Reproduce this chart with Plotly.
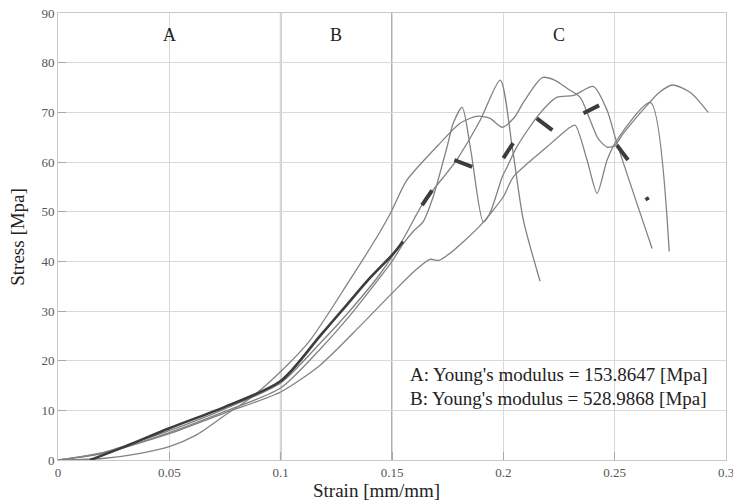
import plotly.graph_objects as go

# ---- data ----
strain_1 = [0, 0.02, 0.035, 0.05, 0.075, 0.1, 0.1177, 0.13, 0.1447, 0.155, 0.164, 0.179, 0.1896, 0.1986, 0.204, 0.209, 0.2165]
stress_1 = [0, 1.5, 3.6, 5.9, 10.3, 15.5, 23.5, 29.5, 37.5, 44.5, 51.7, 60.4, 68.4, 76.5, 63, 48.3, 36]

strain_2 = [0, 0.02, 0.035, 0.05, 0.075, 0.1, 0.1177, 0.13, 0.15, 0.155, 0.1595, 0.164, 0.1685, 0.1747, 0.1775, 0.1815,
            0.1855, 0.191, 0.194, 0.1995, 0.2017, 0.206, 0.2157, 0.224, 0.2315, 0.2405, 0.2466, 0.251, 0.2668]
stress_2 = [0, 1.4, 3.3, 5.5, 9.8, 14.5, 22.3, 28.5, 40, 43.5, 46, 48, 53, 63, 67.8, 71,
            62, 47.9, 49.7, 57, 59, 63, 69.4, 73, 73.4, 75.2, 70.4, 63.8, 42.6]

strain_3 = [0, 0.02, 0.035, 0.05, 0.075, 0.1, 0.1177, 0.1357, 0.1505, 0.16, 0.167, 0.171, 0.176, 0.1896, 0.2, 0.2045,
            0.2195, 0.23, 0.2323, 0.2376, 0.2421, 0.2466, 0.251, 0.266, 0.2745]
stress_3 = [0, 1.3, 3.2, 5.3, 9.5, 13.7, 19.1, 27, 33.8, 38, 40.4, 40.2, 41.6, 47.2, 53, 57,
            63, 67, 67.4, 60.4, 53.7, 60.4, 64.4, 72, 42]

strain_4 = [0, 0.02, 0.035, 0.05, 0.062, 0.075, 0.088, 0.1, 0.1132, 0.13, 0.1447, 0.15, 0.1566, 0.1716, 0.1806,
            0.188, 0.194, 0.1995, 0.205, 0.209, 0.2175, 0.223, 0.2287, 0.2345, 0.239, 0.2426, 0.2466, 0.25, 0.254,
            0.2645, 0.27, 0.276, 0.284, 0.292]
stress_4 = [0, 0.3, 1.2, 2.7, 5, 9, 13, 17.8, 24.1, 35.5, 46, 50.3, 56.3, 63.8, 67.8,
            69.2, 68.8, 67, 69, 72, 77, 76.5, 74.8, 73, 68.4, 64.7, 63, 63.3, 65.8,
            71.4, 74, 75.5, 74, 70]

# mean curve: solid part in regions A/B, dashed part in region C (None = gap between dashes)
mean_strain_solid = [0.0144, 0.03, 0.05, 0.075, 0.1, 0.1177, 0.13, 0.14, 0.1505, 0.155]
mean_stress_solid = [0, 2.7, 6.4, 10.7, 15.9, 25, 31.4, 36.6, 41.5, 44]
mean_strain_dash = [0.1635, 0.168, None, 0.178, 0.186, None, 0.2, 0.2044, None, 0.215, 0.222, None,
                    0.236, 0.243, None, 0.251, 0.256, None, 0.2642, 0.2650]
mean_stress_dash = [51.3, 54.3, None, 60.4, 59, None, 60.8, 63.8, None, 68.8, 66.4, None,
                    69.8, 71.4, None, 63.4, 60.4, None, 52.9, 52.3]

region_bounds = [0.0, 0.1, 0.15, 0.3]
region_labels = ["A", "B", "C"]
region_label_stress = 85.5

modulus_texts = ["A: Young's modulus = 153.8647 [Mpa]", "B: Young's modulus = 528.9868 [Mpa]"]
modulus_text_strain = 0.157
modulus_text_stress = [17.2, 12.4]

x_ticks = [0, 0.05, 0.1, 0.15, 0.2, 0.25, 0.3]
x_tick_text = ["0", "0.05", "0.1", "0.15", "0.2", "0.25", "0.3"]
y_ticks = [0, 10, 20, 30, 40, 50, 60, 70, 80, 90]

x_title = "Strain [mm/mm]"
y_title = "Stress [Mpa]"

# ---- figure ----
SERIF = "Liberation Serif, Times New Roman, serif"
GRAY = "#828282"
DARK = "#3c3c3c"

fig = go.Figure()

# region boundaries (darker vertical lines)
for b in region_bounds[1:-1]:
    fig.add_shape(type="line", xref="x", yref="paper", x0=b, x1=b, y0=0, y1=1,
                  line=dict(color="#9c9c9c", width=1.6), layer="below")

for xs, ys in [(strain_4, stress_4), (strain_3, stress_3), (strain_2, stress_2), (strain_1, stress_1)]:
    fig.add_trace(go.Scatter(x=xs, y=ys, mode="lines",
                             line=dict(color=GRAY, width=1.3, shape="spline", smoothing=0.7),
                             showlegend=False, hoverinfo="skip"))

fig.add_trace(go.Scatter(x=mean_strain_solid, y=mean_stress_solid, mode="lines",
                         line=dict(color=DARK, width=2.6, shape="spline", smoothing=0.8),
                         showlegend=False, hoverinfo="skip"))
fig.add_trace(go.Scatter(x=mean_strain_dash, y=mean_stress_dash, mode="lines",
                         line=dict(color=DARK, width=4), connectgaps=False,
                         showlegend=False, hoverinfo="skip"))

# region labels centred in each region
for i, lab in enumerate(region_labels):
    fig.add_annotation(x=(region_bounds[i] + region_bounds[i + 1]) / 2, y=region_label_stress, text=lab,
                       showarrow=False, font=dict(family=SERIF, size=18, color="#222"))

for t, ys in zip(modulus_texts, modulus_text_stress):
    fig.add_annotation(x=modulus_text_strain, y=ys, text=t, showarrow=False, xanchor="left",
                       font=dict(family=SERIF, size=19, color="#222"))

# axis titles
fig.add_annotation(xref="paper", yref="paper", x=0.4775, y=0, yshift=-30, yanchor="middle",
                   text=x_title, showarrow=False, font=dict(family=SERIF, size=19, color="#222"))
fig.add_annotation(xref="paper", yref="paper", x=-0.0610, y=0.5, xanchor="center", textangle=-90,
                   text=y_title, showarrow=False, font=dict(family=SERIF, size=19, color="#222"))

axis_common = dict(showgrid=True, gridcolor="#d9d9d9", gridwidth=1, zeroline=False,
                   showline=True, mirror=True, linecolor="#c8c8c8", linewidth=1,
                   ticks="inside", ticklen=8, tickcolor="#a8a8a8", ticklabeloverflow="allow",
                   tickfont=dict(family=SERIF, size=13, color="#555"))

fig.update_xaxes(range=[0, 0.3], tickvals=x_ticks, ticktext=x_tick_text, **axis_common)
fig.update_yaxes(range=[0, 90], tickvals=y_ticks, **axis_common)

fig.update_layout(width=733, height=500, margin=dict(l=58, r=7, t=13, b=40, autoexpand=False),
                  plot_bgcolor="white", paper_bgcolor="white")

# remove the default page margin so the figure fills the window exactly
fig.write_html("out.html", config={"displayModeBar": False},
               post_script="document.body.style.margin='0';document.body.style.overflow='hidden';")
